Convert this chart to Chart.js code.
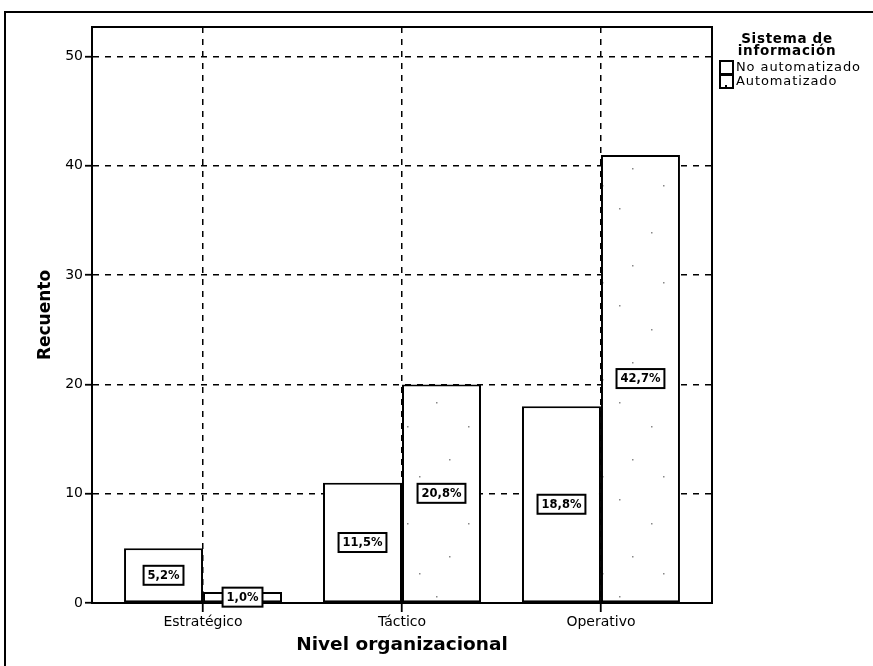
<!DOCTYPE html>
<html>
<head>
<meta charset="utf-8">
<script src="https://cdn.jsdelivr.net/npm/chart.js@4"></script>
<style>
  html, body { margin: 0; padding: 0; background: #fff; }
  #wrap { position: relative; width: 873px; height: 666px; overflow: hidden; background: #fff; }
  #chart { position: absolute; left: 0; top: 0; }
  .lg-title { position: absolute; left: 737px; width: 100px; text-align: center;
    font-family: "DejaVu Sans", sans-serif; font-weight: bold; font-size: 13.5px;
    line-height: 12px; letter-spacing: 0.7px; color: #000; }
  .lg-item { position: absolute; left: 719px; height: 14px; font-family: "DejaVu Sans", sans-serif;
    font-size: 13px; line-height: 14px; letter-spacing: 0.9px; color: #000; white-space: nowrap; }
  .lg-box { position: absolute; left: 0; top: 0; width: 11px; height: 11px; border: 2px solid #000; background: #fff; }
  .lg-box.dots::after { content: ""; position: absolute; left: 4px; bottom: 0; width: 2px; height: 2px; background: #000; }
  .lg-text { position: absolute; left: 17px; top: 0; }
</style>
</head>
<body>
<div id="wrap">
  <canvas id="chart" width="873" height="666"></canvas>
  <div class="lg-title" style="top:32px">Sistema de<br>información</div>
  <div id="legendItems"></div>
</div>
<script>
// Recuento por nivel organizacional y sistema de información
const categories = ['Estratégico', 'Táctico', 'Operativo'];
const seriesNames = ['No automatizado', 'Automatizado'];
const noAutomatizado = [5, 11, 18];
const automatizado = [1, 20, 41];
const yTicks = [0, 10, 20, 30, 40, 50];

const total = noAutomatizado.concat(automatizado).reduce((a, b) => a + b, 0);

// legend entries
const legendHost = document.getElementById('legendItems');
seriesNames.forEach((name, i) => {
  const row = document.createElement('div');
  row.className = 'lg-item';
  row.style.top = (60 + i * 14) + 'px';
  const box = document.createElement('span');
  box.className = 'lg-box' + (i === 1 ? ' dots' : '');
  const txt = document.createElement('span');
  txt.className = 'lg-text';
  txt.textContent = name;
  row.appendChild(box);
  row.appendChild(txt);
  legendHost.appendChild(row);
});

// sparse speckle fill for the "Automatizado" bars
function speckle() {
  const c = document.createElement('canvas');
  c.width = 61; c.height = 97;
  const g = c.getContext('2d');
  g.fillStyle = '#fff';
  g.fillRect(0, 0, c.width, c.height);
  g.fillStyle = '#888';
  [[9, 14], [41, 38], [22, 71], [53, 88]].forEach(([x, y]) => g.fillRect(x, y, 1.5, 1.5));
  return g.createPattern(c, 'repeat');
}

const outerFrame = {
  id: 'outerFrame',
  beforeDraw(chart) {
    const ctx = chart.ctx;
    ctx.save();
    ctx.strokeStyle = '#000';
    ctx.lineWidth = 2;
    ctx.beginPath();
    ctx.moveTo(5, 666);
    ctx.lineTo(5, 12);
    ctx.lineTo(873, 12);
    ctx.stroke();
    ctx.restore();
  },
  afterDatasetsDraw(chart) {
    const a = chart.chartArea;
    const ctx = chart.ctx;
    ctx.save();
    ctx.strokeStyle = '#000';
    ctx.lineWidth = 2;
    ctx.strokeRect(a.left, a.top, a.right - a.left, a.bottom - a.top);
    ctx.restore();
  }
};

const pctLabels = {
  id: 'pctLabels',
  afterDatasetsDraw(chart) {
    const ctx = chart.ctx;
    ctx.save();
    ctx.font = 'bold 11.5px "DejaVu Sans"';
    ctx.textAlign = 'center';
    ctx.textBaseline = 'middle';
    chart.data.datasets.forEach((ds, di) => {
      chart.getDatasetMeta(di).data.forEach((bar, i) => {
        const v = ds.data[i].y;
        const txt = (v / total * 100).toFixed(1).replace('.', ',') + '%';
        const cy = (bar.y + bar.base) / 2;
        const w = ctx.measureText(txt).width + 8;
        const h = 19;
        ctx.fillStyle = '#fff';
        ctx.fillRect(bar.x - w / 2, cy - h / 2, w, h);
        ctx.lineWidth = 2;
        ctx.strokeStyle = '#000';
        ctx.strokeRect(bar.x - w / 2, cy - h / 2, w, h);
        ctx.fillStyle = '#000';
        ctx.fillText(txt, bar.x, cy + 0.5);
      });
    });
    ctx.restore();
  }
};

const gridStyle = (tickLen) => ({
  color: '#000', lineWidth: 1.5, drawTicks: true, tickLength: tickLen, offset: false,
  tickColor: '#000', tickWidth: 1.8, tickBorderDash: []
});
const borderStyle = { display: true, color: '#000', width: 2, dash: [6, 6] };

new Chart(document.getElementById('chart'), {
  type: 'bar',
  data: {
    datasets: [
      {
        label: seriesNames[0],
        data: noAutomatizado.map((v, i) => ({ x: i, y: v })),
        backgroundColor: '#fff', borderColor: '#000', borderWidth: 2, borderSkipped: false,
        categoryPercentage: 0.794, barPercentage: 1
      },
      {
        label: seriesNames[1],
        data: automatizado.map((v, i) => ({ x: i, y: v })),
        backgroundColor: speckle(), borderColor: '#000', borderWidth: 2, borderSkipped: false,
        categoryPercentage: 0.794, barPercentage: 1
      }
    ]
  },
  options: {
    responsive: false,
    animation: false,
    devicePixelRatio: 1,
    layout: { padding: { top: 27, right: 161, left: 0, bottom: 0 } },
    plugins: { legend: { display: false }, tooltip: { enabled: false } },
    scales: {
      x: {
        type: 'linear',
        offset: false,
        min: -0.558, max: 2.558,
        afterBuildTicks(scale) { scale.ticks = categories.map((_, i) => ({ value: i })); },
        afterFit(scale) { scale.height = 63; },
        grid: gridStyle(9),
        border: borderStyle,
        ticks: {
          color: '#000', padding: 2, maxRotation: 0, autoSkip: false,
          font: { family: 'DejaVu Sans', size: 14 },
          callback: (v) => categories[v] ?? ''
        },
        title: {
          display: true, text: 'Nivel organizacional', color: '#000',
          font: { family: 'DejaVu Sans', size: 18.5, weight: 'bold' },
          padding: { top: 0, bottom: 10 }
        }
      },
      y: {
        min: 0, max: 52.7,
        afterBuildTicks(scale) { scale.ticks = yTicks.map(v => ({ value: v })); },
        afterFit(scale) { scale.width = 92; },
        grid: gridStyle(7),
        border: borderStyle,
        ticks: { color: '#000', padding: 2, font: { family: 'DejaVu Sans', size: 14 } },
        title: {
          display: true, text: 'Recuento', color: '#000',
          font: { family: 'DejaVu Sans', size: 17, weight: 'bold' },
          padding: { top: 35, bottom: 0 }
        }
      }
    }
  },
  plugins: [outerFrame, pctLabels]
});
</script>
</body>
</html>
